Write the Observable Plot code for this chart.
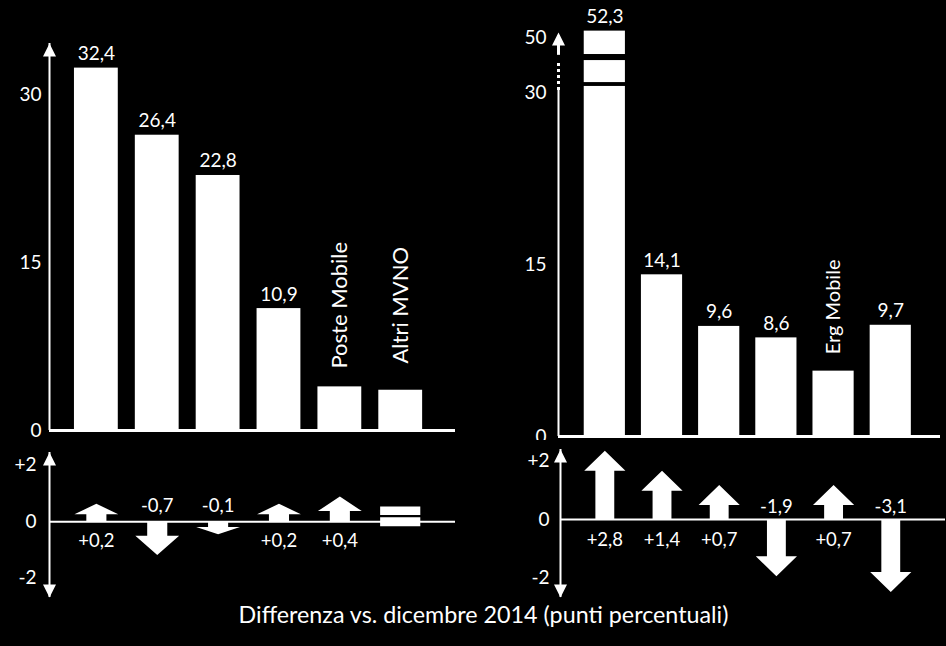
<!DOCTYPE html>
<html>
<head>
<meta charset="utf-8">
<script src="https://cdn.jsdelivr.net/npm/d3@7"></script>
<script src="https://cdn.jsdelivr.net/npm/@observablehq/plot@0.6"></script>
<style>
  html, body { margin: 0; padding: 0; background: #000; }
  #root { position: relative; width: 946px; height: 646px; background: #000; overflow: hidden; font-family: Lato, sans-serif; color: #fff; }
  .panel { position: absolute; }
  .panel svg { display: block; overflow: visible; }
  #caption { position: absolute; left: 0; width: 967px; top: 601px; text-align: center; font-size: 23.3px; line-height: 27px; white-space: nowrap; }
</style>
</head>
<body>
<div id="root">
  <div id="tl" class="panel" style="left:0;top:0"></div>
  <div id="tr" class="panel" style="left:480px;top:0"></div>
  <div id="bl" class="panel" style="left:0;top:440px"></div>
  <div id="br" class="panel" style="left:480px;top:440px"></div>
  <div id="caption">Differenza vs. dicembre 2014 (punti percentuali)</div>
</div>
<script>
// ---- data ----
const leftShares  = [32.4, 26.4, 22.8, 10.9, 3.9, 3.6];
const leftNames   = [null, null, null, null, "Poste Mobile", "Altri MVNO"];
const leftDeltas  = [0.2, -0.7, -0.1, 0.2, 0.4, 0];
const rightShares = [52.3, 14.1, 9.6, 8.6, 5.7, 9.7];
const rightNames  = [null, null, null, null, "Erg Mobile", null];
const rightDeltas = [2.8, 1.4, 0.7, -1.9, 0.7, -3.1];
const leftShareTicks  = [0, 15, 30];
const rightShareTicks = [0, 15, 30, 50];
const deltaTicks = [-2, 0, 2];
// break bands drawn across the 52,3 bar (data units on the broken axis)
const rightBarBreaks = [[41.6, 43.8], [32.2, 33.6]];

// ---- helpers ----
const fmt = v => v.toFixed(1).replace(".", ",");
const fmtDelta = v => (v > 0 ? "+" : "") + fmt(v);
const fmtTick = d => d > 0 ? "+" + d : String(d);
const triUp = {draw(c) { c.moveTo(0, 0); c.lineTo(6.5, 13); c.lineTo(-6.5, 13); c.closePath(); }};
const triDown = {draw(c) { c.moveTo(0, 0); c.lineTo(6.5, -13); c.lineTo(-6.5, -13); c.closePath(); }};
const STYLE = {background: "black", color: "white", fontFamily: "Lato, sans-serif", fontSize: "19px"};
const BAR = 0.36, SHAFT = 0.165, HEAD = 0.36, EQ = 0.33;

// broken axis: above the break the scale is compressed
const BREAK_AT = 30, BREAK_K = 0.24;
const brk = v => v <= BREAK_AT ? v : BREAK_AT + (v - BREAK_AT) * BREAK_K;
const unbrk = u => u <= BREAK_AT ? u : BREAK_AT + (u - BREAK_AT) / BREAK_K;
const ident = v => v;

function sharePanel(cfg) {
  const f = cfg.map || ident;
  const data = cfg.shares.map((v, i) => ({i, v, name: cfg.names[i]}));
  const [x0, x1] = cfg.xDomain;
  return Plot.plot({
    width: cfg.width, height: cfg.height,
    marginLeft: cfg.marginLeft, marginRight: cfg.marginRight,
    marginTop: cfg.marginTop, marginBottom: cfg.marginBottom,
    x: {domain: cfg.xDomain, axis: null},
    y: {domain: [0, f(cfg.yTop)], ticks: cfg.ticks.map(f), tickSize: 0, tickPadding: cfg.tickPadding, label: null,
        tickFormat: d => String(Math.round(cfg.unmap ? cfg.unmap(d) : d))},
    style: STYLE,
    marks: [
      Plot.rect(data, {x1: d => d.i - BAR, x2: d => d.i + BAR, y1: 0, y2: d => f(d.v), fill: "white"}),
      ...(cfg.extra || []),
      Plot.ruleY([0], {x1: x0, x2: x1, stroke: "white", strokeWidth: 3}),
      ...cfg.axisMarks(x0, f),
      Plot.text(data.filter(d => !d.name), {x: "i", y: d => f(d.v), text: d => fmt(d.v), dy: -8, lineAnchor: "bottom", fill: "white", fontSize: 19}),
      Plot.text(data.filter(d => d.name), {x: "i", y: cfg.nameY, text: "name", rotate: -90, fill: "white", fontSize: cfg.nameFont})
    ]
  });
}

function deltaPanel(cfg) {
  const {deltas, width, height, marginLeft, marginRight, marginTop, marginBottom, xDomain, yDomain} = cfg;
  const [x0, x1] = xDomain;
  const yPx = d3.scaleSqrt().domain(yDomain).range([height - marginBottom, marginTop]);
  const arrows = [];
  deltas.forEach((v, i) => {
    if (v === 0) return;
    const tip = yPx(v), zero = yPx(0);
    const head = Math.min(20, Math.abs(tip - zero) * 0.58);
    const hb = yPx.invert(tip + (v > 0 ? head : -head));
    [[i - SHAFT, 0], [i - SHAFT, hb], [i - HEAD, hb], [i, v], [i + HEAD, hb], [i + SHAFT, hb], [i + SHAFT, 0]]
      .forEach(([x, y]) => arrows.push({k: i, x, y}));
  });
  const data = deltas.map((v, i) => ({i, v}));
  return Plot.plot({
    width, height, marginLeft, marginRight, marginTop, marginBottom,
    x: {domain: xDomain, axis: null},
    y: {type: "sqrt", domain: yDomain, ticks: deltaTicks, tickFormat: fmtTick, tickSize: 0, tickPadding: cfg.tickPadding, label: null},
    style: STYLE,
    marks: [
      Plot.ruleY([0], {x1: x0, x2: x1, stroke: "white", strokeWidth: 2}),
      Plot.ruleX([x0], {y1: yDomain[0], y2: yDomain[1], stroke: "white", strokeWidth: 2}),
      Plot.dot([{x: x0, y: yDomain[1]}], {x: "x", y: "y", symbol: triUp, fill: "white", stroke: "none"}),
      Plot.dot([{x: x0, y: yDomain[0]}], {x: "x", y: "y", symbol: triDown, fill: "white", stroke: "none"}),
      Plot.line(arrows, {x: "x", y: "y", z: "k", fill: "white", stroke: "none", curve: "linear"}),
      Plot.ruleY(data.filter(d => d.v === 0), {y: 0, x1: d => d.i - EQ, x2: d => d.i + EQ, stroke: "white", strokeWidth: 8.5, dy: -11}),
      Plot.ruleY(data.filter(d => d.v === 0), {y: 0, x1: d => d.i - EQ, x2: d => d.i + EQ, stroke: "white", strokeWidth: 9, dy: 0}),
      Plot.text(data.filter(d => d.v > 0), {x: "i", y: 0, text: d => fmtDelta(d.v), dy: cfg.posDy, fill: "white", fontSize: 18.5}),
      Plot.text(data.filter(d => d.v < 0), {x: "i", y: 0, text: d => fmtDelta(d.v), dy: cfg.negDy, fill: "white", fontSize: 18.5})
    ]
  });
}

// ---- top left ----
const TL_TOP = 34.6;
document.getElementById("tl").append(sharePanel({
  shares: leftShares, names: leftNames, ticks: leftShareTicks, yTop: TL_TOP,
  width: 470, height: 440, marginLeft: 49, marginRight: 15, marginTop: 43, marginBottom: 10,
  xDomain: [-0.77, 5.9], tickPadding: 8,
  nameY: 11.2, nameFont: 22,
  axisMarks: (x0, f) => [
    Plot.ruleX([x0], {y1: 0, y2: f(TL_TOP), stroke: "white", strokeWidth: 2}),
    Plot.dot([{x: x0, y: f(TL_TOP)}], {x: "x", y: "y", symbol: triUp, fill: "white", stroke: "none"})
  ]
}));

// ---- top right (broken axis) ----
const TR_TOP = 51.8, TR_DOTS = [30.7, 41.0], TR_STUB = 43.5;
document.getElementById("tr").append(sharePanel({
  shares: rightShares, names: rightNames, ticks: rightShareTicks, yTop: TR_TOP,
  map: brk, unmap: unbrk,
  width: 466, height: 446, marginLeft: 78, marginRight: 6, marginTop: 32, marginBottom: 10,
  xDomain: [-0.81, 5.87], tickPadding: 12,
  nameY: 11.3, nameFont: 20,
  extra: [
    Plot.rect(rightBarBreaks, {x1: -BAR - 0.02, x2: BAR + 0.02, y1: d => brk(d[0]), y2: d => brk(d[1]), fill: "black"})
  ],
  axisMarks: (x0, f) => [
    Plot.ruleX([x0], {y1: 0, y2: f(TR_DOTS[0]), stroke: "white", strokeWidth: 2}),
    Plot.ruleX([x0], {y1: f(TR_DOTS[0]), y2: f(TR_DOTS[1]), stroke: "white", strokeWidth: 3, strokeDasharray: "3,3"}),
    Plot.ruleX([x0], {y1: f(TR_STUB), y2: f(TR_TOP) - 0.3, stroke: "white", strokeWidth: 3}),
    Plot.dot([{x: x0, y: f(TR_TOP)}], {x: "x", y: "y", symbol: triUp, fill: "white", stroke: "none"})
  ]
}));

// ---- bottom left ----
document.getElementById("bl").append(deltaPanel({
  deltas: leftDeltas, width: 470, height: 165, marginLeft: 49, marginRight: 15, marginTop: 12, marginBottom: 8,
  xDomain: [-0.77, 5.9], yDomain: [-3.6, 3.0], tickPadding: 13, posDy: 19, negDy: -16
}));

// ---- bottom right ----
document.getElementById("br").append(deltaPanel({
  deltas: rightDeltas, width: 466, height: 165, marginLeft: 80, marginRight: 1, marginTop: 9, marginBottom: 8,
  xDomain: [-0.775, 5.957], yDomain: [-3.6, 2.9], tickPadding: 11, posDy: 21, negDy: -12
}));
</script>
</body>
</html>
